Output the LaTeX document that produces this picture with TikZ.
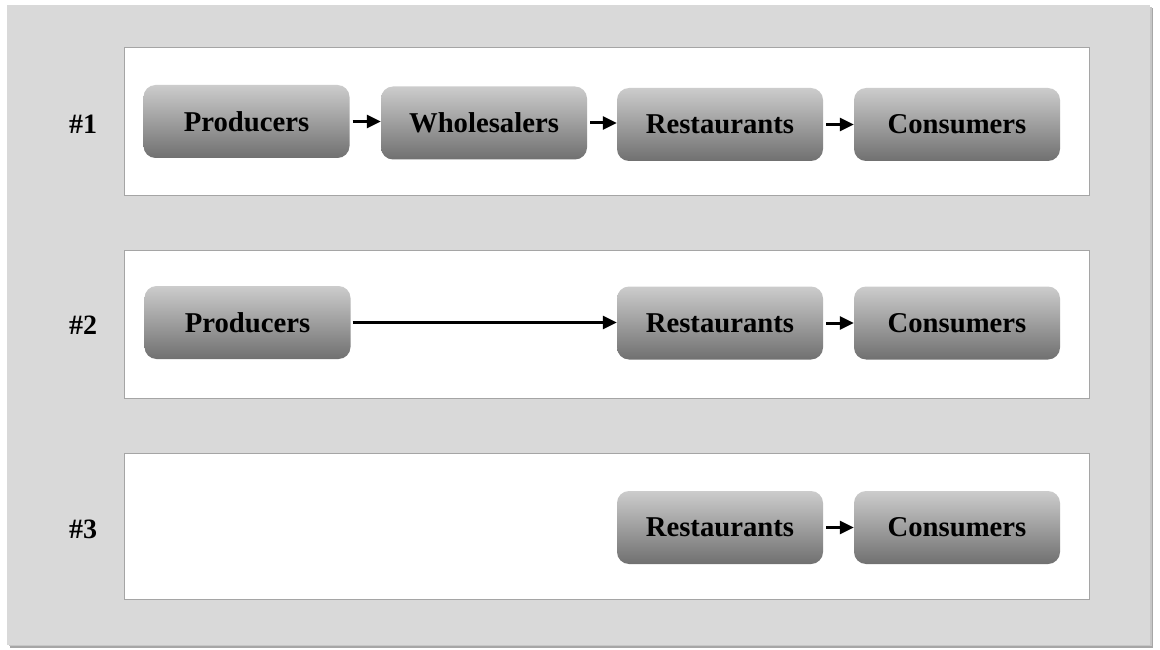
\documentclass[tikz,border=0pt]{standalone}
\usepackage{fontspec}
\setmainfont{Liberation Serif}
\usetikzlibrary{arrows.meta}
\definecolor{outerbg}{RGB}{217,217,217}
\definecolor{panelline}{RGB}{165,165,165}
\definecolor{boxtop}{RGB}{204,204,204}
\definecolor{boxbot}{RGB}{112,112,112}
\tikzset{
  stagebox/.style={rounded corners=12pt, minimum width=206pt, minimum height=73pt,
    top color=boxtop, bottom color=boxbot, draw=none, inner sep=0pt,
    font=\fontsize{28.7}{34}\selectfont\bfseries, text=black},
  panel/.style={fill=white, draw=panelline, line width=0.8pt},
  rowlabel/.style={font=\fontsize{28}{34}\selectfont\bfseries, text=black},
  flow/.style={line width=3pt, -{Triangle[length=14pt,width=13pt]}},
}
\begin{document}
\begin{tikzpicture}[x=1pt,y=-1pt]
\useasboundingbox (0,0) rectangle (1160,650);
% outer panel with shadow
\fill[gray!70] (10,8) rectangle (1153,648);
\fill[gray!45] (9,7) rectangle (1151.5,646);
\fill[outerbg] (7,5) rectangle (1150,644.5);
% panels
\draw[panel] (124,47) rectangle (1089,195);
\draw[panel] (124,250) rectangle (1089,398);
\draw[panel] (124,453) rectangle (1089,599);
% labels
\node[rowlabel] (l1) at (83,124) {\#1};
\node[rowlabel] (l2) at (83,325) {\#2};
\node[rowlabel] (l3) at (83,529) {\#3};
% row 1
\node[stagebox] (p1) at (246.5,121.5) {Producers};
\node[stagebox] (w1) at (484,123) {Wholesalers};
\node[stagebox] (r1) at (720,124.5) {Restaurants};
\node[stagebox] (c1) at (957,124.5) {Consumers};
% row 2
\node[stagebox] (p2) at (247.5,322.5) {Producers};
\node[stagebox] (r2) at (720,323) {Restaurants};
\node[stagebox] (c2) at (957,323) {Consumers};
% row 3
\node[stagebox] (r3) at (720,527.5) {Restaurants};
\node[stagebox] (c3) at (957,527.5) {Consumers};
% arrows
\draw[flow, shorten <=3pt] (p1.east) -- (p1.east -| w1.west);
\draw[flow, shorten <=3pt] (w1.east) -- (w1.east -| r1.west);
\draw[flow, shorten <=3pt] (r1.east) -- (c1.west);
\draw[flow, shorten <=2pt] (p2.east) -- (p2.east -| r2.west);
\draw[flow, shorten <=3pt] (r2.east) -- (c2.west);
\draw[flow, shorten <=3pt] (r3.east) -- (c3.west);
\end{tikzpicture}
\end{document}
